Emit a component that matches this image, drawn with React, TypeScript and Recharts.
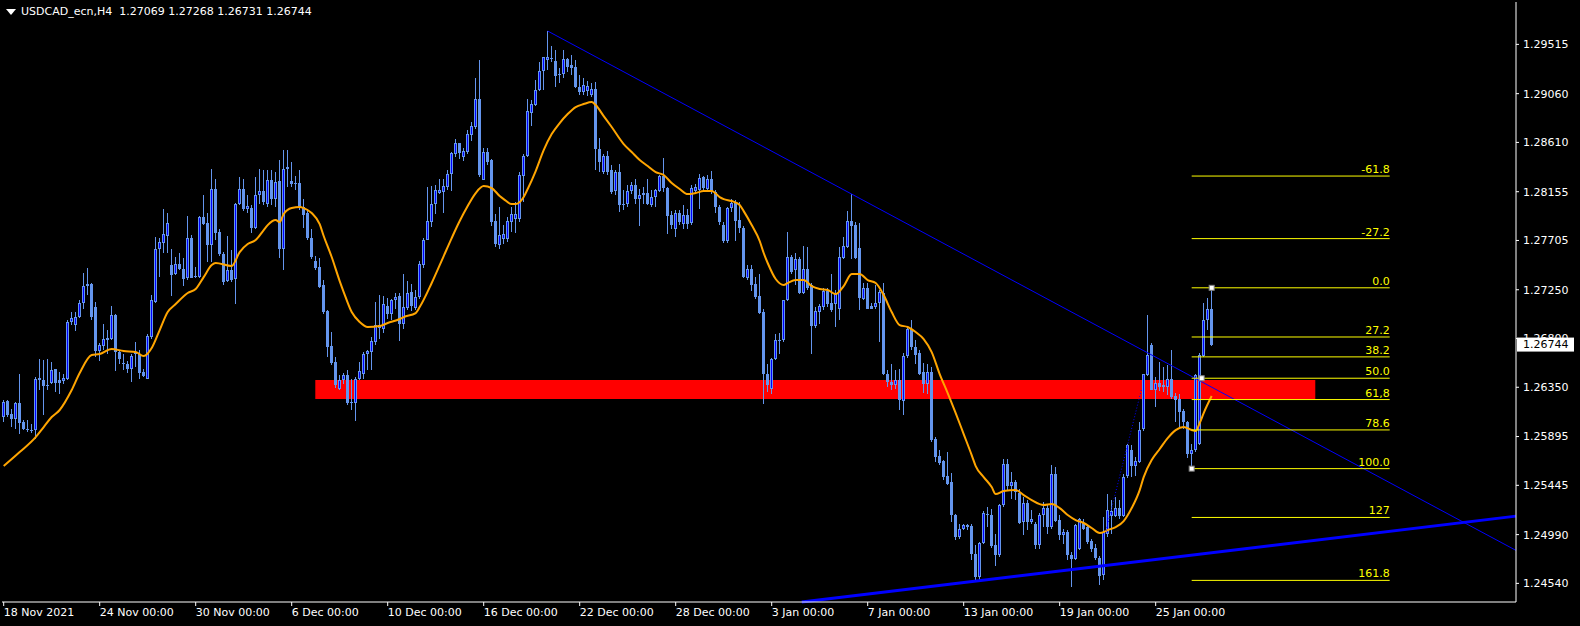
import React from 'react';
import {
  ComposedChart,
  Bar,
  Line,
  XAxis,
  YAxis,
  ReferenceLine,
  ReferenceArea,
  ReferenceDot,
} from 'recharts';

// USDCAD_ecn H4 candles, bar 0 = 18 Nov 2021 00:00
const opens = [
  1.26076, 1.26221, 1.26107, 1.26061, 1.26208, 1.2603, 1.25968, 1.25959, 1.25953, 1.26415,
  1.26415, 1.26362, 1.2639, 1.26516, 1.26415, 1.26409, 1.26427, 1.26954, 1.26929, 1.26994,
  1.27129, 1.27283, 1.27302, 1.27092, 1.26686, 1.26732, 1.26784, 1.26791, 1.27015, 1.26677,
  1.26575, 1.26569, 1.26516, 1.26661, 1.26655, 1.26492, 1.2643, 1.26815, 1.27139, 1.27622,
  1.27684, 1.27745, 1.27477, 1.27391, 1.27484, 1.2744, 1.27354, 1.2773, 1.2737, 1.2737,
  1.27918, 1.27869, 1.27662, 1.2818, 1.27785, 1.27579, 1.2733, 1.27431, 1.27345, 1.28038,
  1.2818, 1.27992, 1.28008, 1.2782, 1.28128, 1.28159, 1.28045, 1.28261, 1.28091, 1.28252,
  1.27629, 1.28369, 1.28252, 1.28239, 1.28239, 1.28014, 1.27959, 1.27731, 1.27515, 1.2746,
  1.27291, 1.27053, 1.26727, 1.26582, 1.26336, 1.26413, 1.26459, 1.26203, 1.26203, 1.26428,
  1.26474, 1.26659, 1.26675, 1.26767, 1.26896, 1.2689, 1.27097, 1.27023, 1.27158, 1.27189,
  1.26936, 1.27084, 1.27229, 1.27084, 1.27183, 1.27482, 1.27713, 1.27876, 1.28045, 1.28144,
  1.28153, 1.28199, 1.28322, 1.28507, 1.286, 1.28476, 1.28523, 1.28683, 1.28754, 1.29015,
  1.28267, 1.28523, 1.28446, 1.27882, 1.2766, 1.27722, 1.27722, 1.27876, 1.27907, 1.27907,
  1.28301, 1.28483, 1.28886, 1.28954, 1.29092, 1.29268, 1.2937, 1.29376, 1.29363, 1.29231,
  1.29237, 1.29379, 1.29323, 1.29308, 1.29123, 1.29077, 1.29083, 1.29046, 1.29102, 1.28553,
  1.28338, 1.28483, 1.28353, 1.28162, 1.28338, 1.28045, 1.28045, 1.28162, 1.28221, 1.28085,
  1.28122, 1.28147, 1.2803, 1.28107, 1.28162, 1.28298, 1.2819, 1.27937, 1.27814, 1.27962,
  1.27854, 1.27944, 1.27866, 1.28162, 1.28169, 1.28292, 1.28184, 1.2827, 1.28153, 1.28014,
  1.27851, 1.27697, 1.28005, 1.28062, 1.27893, 1.27816, 1.27354, 1.27437, 1.27302, 1.27191,
  1.27046, 1.26476, 1.26338, 1.26609, 1.26784, 1.26784, 1.27154, 1.27548, 1.27431, 1.2753,
  1.27222, 1.27446, 1.27292, 1.26914, 1.27046, 1.27092, 1.2724, 1.27129, 1.27123, 1.27077,
  1.27545, 1.27647, 1.27884, 1.27847, 1.27631, 1.27169, 1.27262, 1.27098, 1.27092, 1.27129,
  1.27222, 1.2647, 1.26399, 1.26368, 1.26421, 1.26224, 1.26636, 1.26892, 1.26723, 1.26667,
  1.26492, 1.26384, 1.26492, 1.25876, 1.25712, 1.25669, 1.25527, 1.25475, 1.25167, 1.24967,
  1.25044, 1.25075, 1.25066, 1.24814, 1.24598, 1.24913, 1.25168, 1.25174, 1.24891, 1.24799,
  1.25261, 1.25639, 1.25436, 1.25476, 1.25375, 1.25107, 1.25285, 1.25107, 1.25085, 1.24891,
  1.25168, 1.25239, 1.2506, 1.25553, 1.25122, 1.24983, 1.25014, 1.24799, 1.24768, 1.2486,
  1.25097, 1.2506, 1.24931, 1.24869, 1.24777, 1.24614, 1.24999, 1.25159, 1.25159, 1.25239,
  1.25159, 1.25529, 1.25769, 1.25621, 1.25661, 1.25969, 1.26462, 1.26739, 1.26329, 1.26391,
  1.26348, 1.26348, 1.26422, 1.26268, 1.26246, 1.26132, 1.26031, 1.25732, 1.25769, 1.2583,
  1.26637, 1.2697, 1.27069,
];

const highs = [
  1.26236, 1.2623, 1.26153, 1.26215, 1.2647, 1.26045, 1.26045, 1.26014, 1.26446, 1.26615,
  1.266, 1.26615, 1.26584, 1.26523, 1.26492, 1.26476, 1.26969, 1.27046, 1.27046, 1.27154,
  1.27407, 1.27447, 1.2731, 1.27139, 1.26754, 1.26932, 1.26877, 1.27099, 1.27025, 1.26698,
  1.26655, 1.26593, 1.26655, 1.26766, 1.26692, 1.26523, 1.2684, 1.272, 1.27733, 1.27724,
  1.27992, 1.27955, 1.27625, 1.27548, 1.27591, 1.27545, 1.2793, 1.27755, 1.27462, 1.2793,
  1.28124, 1.27955, 1.28361, 1.28269, 1.27807, 1.27594, 1.27745, 1.27616, 1.28047, 1.28287,
  1.28269, 1.28124, 1.2803, 1.28292, 1.28369, 1.28353, 1.28353, 1.28353, 1.28338, 1.28446,
  1.28538, 1.28538, 1.2843, 1.28298, 1.28353, 1.28091, 1.2799, 1.27814, 1.27559, 1.27546,
  1.27343, 1.2706, 1.26859, 1.26628, 1.26459, 1.26481, 1.26505, 1.26428, 1.26444, 1.26582,
  1.26675, 1.2669, 1.26813, 1.27137, 1.27198, 1.27189, 1.27177, 1.27167, 1.2722, 1.2722,
  1.27398, 1.27328, 1.27306, 1.27245, 1.27512, 1.27728, 1.28199, 1.28205, 1.28221, 1.28276,
  1.28276, 1.28353, 1.28523, 1.28646, 1.28606, 1.28554, 1.28729, 1.288, 1.292, 1.2937,
  1.28554, 1.28554, 1.28461, 1.27953, 1.28014, 1.27845, 1.27922, 1.28014, 1.28061, 1.28338,
  1.28507, 1.29009, 1.29, 1.29185, 1.29354, 1.294, 1.29638, 1.29502, 1.29462, 1.29299,
  1.29462, 1.29385, 1.29416, 1.2937, 1.29231, 1.292, 1.29176, 1.29154, 1.29163, 1.28655,
  1.28507, 1.28529, 1.28399, 1.28353, 1.28415, 1.28169, 1.28215, 1.28245, 1.28276, 1.28184,
  1.28199, 1.2827, 1.28169, 1.28184, 1.28307, 1.28467, 1.28199, 1.27974, 1.27984, 1.27984,
  1.2803, 1.27999, 1.28215, 1.2823, 1.28322, 1.28301, 1.28313, 1.28344, 1.28169, 1.2803,
  1.27876, 1.28014, 1.28091, 1.28078, 1.28062, 1.27838, 1.27477, 1.27477, 1.27369, 1.274,
  1.27068, 1.26569, 1.26624, 1.26846, 1.26852, 1.2716, 1.27785, 1.2757, 1.27585, 1.27554,
  1.27653, 1.27647, 1.27308, 1.27092, 1.27123, 1.27262, 1.27262, 1.274, 1.27246, 1.27647,
  1.27739, 1.27979, 1.28133, 1.27878, 1.27862, 1.27308, 1.27308, 1.27129, 1.27292, 1.27246,
  1.27308, 1.26513, 1.26569, 1.26507, 1.26522, 1.26667, 1.26907, 1.26969, 1.26784, 1.26698,
  1.26575, 1.26569, 1.26538, 1.25891, 1.25768, 1.25682, 1.25752, 1.25558, 1.25183, 1.2509,
  1.25084, 1.2509, 1.2509, 1.24891, 1.24922, 1.25208, 1.25245, 1.2523, 1.25, 1.25276,
  1.25692, 1.25692, 1.25569, 1.25492, 1.25415, 1.25338, 1.25307, 1.25214, 1.25107, 1.2519,
  1.25291, 1.25276, 1.2563, 1.25615, 1.25168, 1.25045, 1.2503, 1.24829, 1.25085, 1.25147,
  1.25137, 1.25076, 1.24953, 1.24906, 1.24789, 1.25153, 1.25368, 1.25307, 1.25338, 1.25307,
  1.25553, 1.2583, 1.25815, 1.25707, 1.26031, 1.26477, 1.27016, 1.26761, 1.26446, 1.26585,
  1.26539, 1.26554, 1.26693, 1.26299, 1.26292, 1.26145, 1.2604, 1.2583, 1.26477, 1.26662,
  1.27124, 1.2717, 1.27268,
];

const lows = [
  1.2603, 1.26076, 1.25984, 1.25968, 1.25922, 1.25953, 1.25937, 1.25928, 1.25876, 1.26322,
  1.26091, 1.26322, 1.26384, 1.26307, 1.26292, 1.26384, 1.26421, 1.26923, 1.26871, 1.26985,
  1.27068, 1.272, 1.26975, 1.2663, 1.26593, 1.26692, 1.26661, 1.26784, 1.26501, 1.26569,
  1.26507, 1.26483, 1.26399, 1.26538, 1.2643, 1.26446, 1.26427, 1.268, 1.27129, 1.2737,
  1.27585, 1.27585, 1.27191, 1.27385, 1.27431, 1.27283, 1.27339, 1.27354, 1.27354, 1.27354,
  1.27847, 1.27508, 1.27508, 1.27708, 1.27561, 1.27293, 1.27323, 1.27323, 1.27117, 1.28032,
  1.27976, 1.27961, 1.27774, 1.27814, 1.28045, 1.2803, 1.28014, 1.2803, 1.28014, 1.27546,
  1.27429, 1.28199, 1.28199, 1.28175, 1.2799, 1.27823, 1.27713, 1.27537, 1.27429, 1.27269,
  1.27029, 1.26628, 1.26551, 1.26345, 1.26321, 1.26382, 1.26182, 1.26136, 1.26043, 1.26413,
  1.26428, 1.26505, 1.26505, 1.26736, 1.26798, 1.2685, 1.26983, 1.26974, 1.27075, 1.26776,
  1.2689, 1.2706, 1.27053, 1.27066, 1.27167, 1.27454, 1.27706, 1.2783, 1.27953, 1.28138,
  1.27959, 1.28168, 1.28162, 1.28476, 1.28461, 1.28436, 1.28507, 1.28624, 1.28738, 1.28292,
  1.28261, 1.28399, 1.27836, 1.27645, 1.27629, 1.27676, 1.27691, 1.27783, 1.27777, 1.27876,
  1.28061, 1.28477, 1.28763, 1.28948, 1.29083, 1.29092, 1.29277, 1.29354, 1.29123, 1.29154,
  1.29206, 1.29262, 1.29231, 1.29108, 1.29046, 1.29046, 1.2904, 1.29031, 1.28353, 1.28338,
  1.28323, 1.28313, 1.28138, 1.28122, 1.27968, 1.27984, 1.28014, 1.28138, 1.28045, 1.27839,
  1.28045, 1.2803, 1.28014, 1.28014, 1.28153, 1.28153, 1.27768, 1.27814, 1.27737, 1.27845,
  1.27814, 1.27808, 1.27851, 1.28138, 1.27999, 1.28153, 1.28153, 1.28138, 1.27962, 1.27845,
  1.27685, 1.27685, 1.27968, 1.27702, 1.2777, 1.27354, 1.27339, 1.2724, 1.27169, 1.27024,
  1.26199, 1.26307, 1.26291, 1.26599, 1.26661, 1.26769, 1.27145, 1.274, 1.27292, 1.27215,
  1.27215, 1.27246, 1.26661, 1.26901, 1.26932, 1.27061, 1.27092, 1.27046, 1.26907, 1.26969,
  1.2753, 1.2764, 1.2753, 1.2753, 1.27061, 1.27154, 1.27068, 1.27068, 1.27077, 1.26769,
  1.26461, 1.26353, 1.26322, 1.26338, 1.26137, 1.26091, 1.26624, 1.26692, 1.26569, 1.26461,
  1.26298, 1.26285, 1.25845, 1.2566, 1.25629, 1.25497, 1.25444, 1.25106, 1.24936, 1.24952,
  1.25029, 1.25029, 1.2476, 1.24552, 1.24552, 1.24906, 1.2506, 1.24869, 1.24697, 1.24783,
  1.25245, 1.25399, 1.25322, 1.25307, 1.25085, 1.24983, 1.2503, 1.25091, 1.2486, 1.2486,
  1.2506, 1.24999, 1.25045, 1.25107, 1.24943, 1.24906, 1.24752, 1.24506, 1.24759, 1.24845,
  1.25036, 1.24906, 1.24829, 1.24759, 1.24521, 1.24568, 1.24968, 1.24999, 1.25153, 1.25137,
  1.25153, 1.25516, 1.25522, 1.25529, 1.25652, 1.25947, 1.26453, 1.26323, 1.26169, 1.26317,
  1.26308, 1.26277, 1.26246, 1.26031, 1.25984, 1.25969, 1.25701, 1.25599, 1.25753, 1.25815,
  1.26625, 1.26878, 1.26731,
];

const closes = [
  1.26215, 1.26091, 1.26061, 1.26208, 1.26021, 1.25968, 1.25959, 1.25947, 1.2643, 1.26436,
  1.26362, 1.26368, 1.26513, 1.26393, 1.26393, 1.26433, 1.26957, 1.26985, 1.26994, 1.27132,
  1.27283, 1.27302, 1.26994, 1.26686, 1.26738, 1.26791, 1.26806, 1.27015, 1.26677, 1.26609,
  1.26569, 1.26516, 1.2664, 1.26677, 1.26483, 1.26452, 1.26821, 1.27154, 1.27622, 1.27687,
  1.27764, 1.27862, 1.27385, 1.27484, 1.27437, 1.27351, 1.27724, 1.2736, 1.27376, 1.27918,
  1.27856, 1.27662, 1.2818, 1.2777, 1.27576, 1.27323, 1.27431, 1.27339, 1.28038, 1.2818,
  1.27992, 1.28023, 1.27823, 1.28128, 1.28159, 1.28061, 1.28261, 1.28091, 1.28245, 1.27626,
  1.28369, 1.28384, 1.2823, 1.28224, 1.28014, 1.27944, 1.27728, 1.27552, 1.27454, 1.27275,
  1.27044, 1.26721, 1.26573, 1.26367, 1.26413, 1.26459, 1.26203, 1.26213, 1.26428, 1.26496,
  1.26659, 1.26681, 1.26773, 1.26921, 1.26921, 1.27115, 1.27023, 1.27158, 1.27183, 1.2693,
  1.2709, 1.27223, 1.27097, 1.27183, 1.27485, 1.27713, 1.27882, 1.28045, 1.28168, 1.28168,
  1.28205, 1.28322, 1.28513, 1.286, 1.28513, 1.28532, 1.28686, 1.2876, 1.29015, 1.28307,
  1.28523, 1.2843, 1.27876, 1.27676, 1.27759, 1.27768, 1.27882, 1.27953, 1.27953, 1.28307,
  1.28483, 1.28898, 1.28963, 1.29092, 1.29268, 1.29394, 1.294, 1.29385, 1.29225, 1.29237,
  1.29379, 1.29308, 1.29299, 1.29123, 1.29077, 1.29139, 1.29132, 1.29102, 1.28547, 1.2843,
  1.28483, 1.28338, 1.28153, 1.28338, 1.2803, 1.2803, 1.28159, 1.28221, 1.28085, 1.28128,
  1.28147, 1.28045, 1.28107, 1.28169, 1.28298, 1.2819, 1.27931, 1.27851, 1.27962, 1.27876,
  1.27944, 1.2786, 1.28193, 1.28199, 1.28282, 1.2819, 1.2827, 1.28153, 1.28014, 1.27876,
  1.27697, 1.28005, 1.28054, 1.27887, 1.27816, 1.27369, 1.27446, 1.27292, 1.27185, 1.27031,
  1.26476, 1.26368, 1.26615, 1.2679, 1.2679, 1.27154, 1.27548, 1.27416, 1.2753, 1.27222,
  1.27446, 1.27262, 1.26914, 1.27052, 1.27098, 1.2724, 1.27123, 1.27061, 1.27215, 1.27548,
  1.27653, 1.27884, 1.27838, 1.27539, 1.27175, 1.27262, 1.27077, 1.27077, 1.27129, 1.27231,
  1.2647, 1.26399, 1.26368, 1.26421, 1.2623, 1.26636, 1.26892, 1.26723, 1.26646, 1.26476,
  1.26384, 1.26492, 1.25866, 1.25706, 1.25651, 1.25521, 1.2546, 1.25167, 1.24967, 1.25044,
  1.25075, 1.25059, 1.24813, 1.24598, 1.24913, 1.25193, 1.25184, 1.24882, 1.24799, 1.25261,
  1.25639, 1.25436, 1.25476, 1.25384, 1.25097, 1.25285, 1.25107, 1.25137, 1.24891, 1.25168,
  1.25239, 1.2506, 1.25553, 1.25116, 1.24983, 1.25014, 1.24799, 1.24768, 1.25076, 1.25137,
  1.25045, 1.24922, 1.2486, 1.24777, 1.24605, 1.25014, 1.25214, 1.25208, 1.25239, 1.25159,
  1.25522, 1.25815, 1.25621, 1.2567, 1.2596, 1.26471, 1.26647, 1.26329, 1.26391, 1.26354,
  1.26369, 1.26422, 1.26256, 1.26231, 1.26123, 1.26031, 1.25738, 1.25769, 1.26462, 1.26647,
  1.2697, 1.27069, 1.26744,
];

// orange moving average, read at these bars
const maBars = [
  0, 4, 8, 10, 12, 14, 17, 19, 22, 24, 27, 30, 33, 35, 37, 39, 41, 43, 46, 48,
  50, 52, 53, 57, 59, 61, 63, 65, 66, 68, 69, 70, 72, 74, 75, 77, 79, 80, 82, 84,
  85, 87, 89, 91, 94, 96, 99, 100, 103, 104, 107, 110, 112, 114, 116, 118, 120, 122, 124, 125,
  127, 128, 130, 131, 133, 135, 137, 139, 141, 143, 145, 147, 148, 150, 152, 155, 157, 159, 161, 163,
  165, 167, 169, 171, 173, 175, 177, 179, 180, 182, 184, 185, 187, 189, 190, 191, 193, 195, 196, 198,
  200, 202, 204, 206, 208, 210, 212, 214, 216, 218, 220, 222, 224, 226, 228, 230, 232, 234, 236, 238,
  240, 242, 243, 245, 247, 248, 250, 253, 255, 257, 260, 262, 264, 266, 268, 270, 272, 274, 276, 278,
  280, 282, 284, 285, 287, 289, 291, 293, 295, 297, 298, 299, 300, 302,
];
const maValues = [
  1.25623, 1.25752, 1.2589, 1.25983, 1.26075, 1.2614, 1.26324, 1.26481, 1.26647, 1.26657,
  1.26703, 1.26684, 1.26675, 1.26638, 1.26712, 1.26878, 1.27044, 1.27118, 1.2722, 1.27257,
  1.27367, 1.27478, 1.27497, 1.27469, 1.27598, 1.27672, 1.27709, 1.27801, 1.27847, 1.27893,
  1.27875, 1.27949, 1.28004, 1.28013, 1.28004, 1.27958, 1.27856, 1.27746, 1.27552, 1.2733,
  1.27229, 1.27044, 1.26952, 1.26906, 1.26915, 1.26943, 1.2698, 1.26998, 1.27035, 1.2709,
  1.27312, 1.27561, 1.27727, 1.27884, 1.28023, 1.28143, 1.28207, 1.28189, 1.28115, 1.28087,
  1.28041, 1.28041, 1.28106, 1.2818, 1.28346, 1.28539, 1.28687, 1.28789, 1.28872, 1.28936,
  1.28964, 1.28983, 1.28955, 1.28853, 1.28752, 1.28595, 1.28521, 1.28447, 1.28392, 1.28336,
  1.28309, 1.28235, 1.2818, 1.28133, 1.28143, 1.28161, 1.28161, 1.28106, 1.28087, 1.28069,
  1.28032, 1.27976, 1.27847, 1.277, 1.27589, 1.27497, 1.27349, 1.27293, 1.27312, 1.2734,
  1.2734, 1.27284, 1.27257, 1.27247, 1.2721, 1.27284, 1.27395, 1.27395, 1.2734, 1.27312,
  1.27201, 1.27044, 1.26924, 1.26906, 1.2686, 1.26795, 1.26675, 1.26472, 1.26297, 1.26112,
  1.25918, 1.25724, 1.25623, 1.25521, 1.25429, 1.25364, 1.25392, 1.25401, 1.25355, 1.25309,
  1.25263, 1.25272, 1.25235, 1.25171, 1.25124, 1.25097, 1.25051, 1.25004, 1.25032, 1.2506,
  1.25115, 1.25235, 1.25401, 1.25521, 1.25678, 1.2578, 1.25881, 1.25955, 1.25983, 1.25955,
  1.25946, 1.2602, 1.26112, 1.26269,
];

// axes
const priceTicks = [
  1.29515, 1.2906, 1.2861, 1.28155, 1.27705, 1.2725, 1.268, 1.2635, 1.25895, 1.25445, 1.2499, 1.2454,
];
const lastPrice = 1.26744;
const dateTickBars = [0, 24, 48, 72, 96, 120, 144, 168, 192, 216, 240, 264, 288];
const dateTickLabels = [
  '18 Nov 2021', '24 Nov 00:00', '30 Nov 00:00', '6 Dec 00:00', '10 Dec 00:00',
  '16 Dec 00:00', '22 Dec 00:00', '28 Dec 00:00', '3 Jan 00:00', '7 Jan 00:00',
  '13 Jan 00:00', '19 Jan 00:00', '25 Jan 00:00',
];

// drawn objects
const zoneBars = [77.9, 327.9];
const zonePrices = [1.26241, 1.26417];
const resistanceBars = [136, 212];
const resistancePrices = [1.29638, 1.28133];
const supportBars = [243, 300];
const supportPrices = [1.24561, 1.24814];
const dottedBars = [275.4, 284.5];
const dottedPrices = [1.24999, 1.26339];
const fibBars = [297, 302];
const fibPrices = [1.25599, 1.27268]; // 100 / 0 anchors
const fibEndBar = 346.5;
const fibLevels = [-61.8, -27.2, 0, 27.2, 38.2, 50, 61.8, 78.6, 100, 127, 161.8];
const fibLabels = ['-61.8', '-27.2', '0.0', '27.2', '38.2', '50.0', '61,8', '78.6', '100.0', '127', '161.8'];

const X_MIN = -0.425;
const X_MAX = 378.08;
const Y_MIN = 1.24368;
const Y_MAX = 1.29906;

const FONT = "'DejaVu Sans', sans-serif";
const WICK = '#6495ED';
const BEAR_FILL = '#6495ED';
const BULL_FILL = '#0000FF';

const maByBar = new Map<number, number>(maBars.map((b, k) => [b, maValues[k]]));

const data = opens.map((o, i) => ({
  i,
  o,
  h: highs[i],
  l: lows[i],
  c: closes[i],
  range: [lows[i], highs[i]],
  ma: maByBar.has(i) ? maByBar.get(i) : null,
}));

/** value on a straight line through two anchors */
const lineAt = (bars: number[], prices: number[], bar: number) =>
  prices[0] + ((prices[1] - prices[0]) / (bars[1] - bars[0])) * (bar - bars[0]);

// support line enters the plot where it crosses the bottom edge
const supportStart =
  supportBars[0] +
  ((Y_MIN - supportPrices[0]) * (supportBars[1] - supportBars[0])) / (supportPrices[1] - supportPrices[0]);

/** MT4 style candle drawn from the [low, high] range bar */
function Candle(props: any) {
  const { x, y, width, height, payload } = props;
  if (payload == null || x == null) return null;
  const { o, h, l, c } = payload;
  const top = Math.min(y, y + height);
  const span = Math.abs(height);
  const py = (v: number) => (h > l ? top + ((h - v) / (h - l)) * span : top);
  const cx = Math.floor(x + width / 2);
  const bodyTop = Math.round(py(Math.max(o, c)));
  const bodyBot = Math.max(bodyTop + 1, Math.round(py(Math.min(o, c))));
  const bull = c > o;
  return (
    <g>
      <rect x={cx} y={Math.round(top)} width={1} height={Math.max(1, Math.round(top + span) - Math.round(top))} fill={WICK} />
      <rect x={cx - 1} y={bodyTop} width={3} height={bodyBot - bodyTop} fill={bull ? WICK : BEAR_FILL} />
      {bull && bodyBot - bodyTop > 2 && (
        <rect x={cx} y={bodyTop + 1} width={1} height={bodyBot - bodyTop - 2} fill={BULL_FILL} />
      )}
    </g>
  );
}

function PriceTick(props: any) {
  const { x, y, payload } = props;
  const v = payload.value as number;
  if (v === lastPrice) {
    return (
      <g>
        <rect x={x - 6} y={y - 7} width={57} height={14} fill="#FFFFFF" />
        <text x={x} y={y} dy="0.355em" fill="#000000" fontSize={11} fontFamily={FONT}>
          {v.toFixed(5)}
        </text>
      </g>
    );
  }
  return (
    <g>
      <line x1={x - 7} x2={x - 4} y1={y} y2={y} stroke="#FFFFFF" />
      <text x={x} y={y} dy="0.355em" fill="#FFFFFF" fontSize={11} fontFamily={FONT}>
        {v.toFixed(5)}
      </text>
    </g>
  );
}

function DateTick(props: any) {
  const { x, y, payload } = props;
  const k = dateTickBars.indexOf(payload.value);
  return (
    <text x={x} y={y} dy="0.71em" textAnchor="start" fill="#FFFFFF" fontSize={11} fontFamily={FONT}>
      {dateTickLabels[k]}
    </text>
  );
}

function FibLabel(props: any) {
  const vb = props.viewBox || {};
  return (
    <text x={vb.x + vb.width} y={vb.y - 3} textAnchor="end" fill="#FFFF00" fontSize={11} fontFamily={FONT}>
      {props.text}
    </text>
  );
}

const AnchorSquare = (p: any) => (
  <rect x={p.cx - 2.5} y={p.cy - 2.5} width={5} height={5} fill="#FFFFFF" stroke="#808080" strokeWidth={1} />
);

export default function App() {
  const fibHigh = fibPrices[1];
  const fibRange = fibPrices[1] - fibPrices[0];
  return (
    <div style={{ position: 'absolute', left: 0, top: 0, width: 1580, height: 626, background: '#000000' }}>
      <ComposedChart
        width={1580}
        height={626}
        data={data}
        margin={{ top: 2, right: 0, bottom: 0, left: 2 }}
      >
        <XAxis
          dataKey="i"
          type="number"
          domain={[X_MIN, X_MAX]}
          allowDataOverflow
          ticks={dateTickBars}
          interval={0}
          height={24}
          tickSize={4}
          tickMargin={2}
          axisLine={{ stroke: '#FFFFFF' }}
          tickLine={{ stroke: '#FFFFFF' }}
          tick={<DateTick />}
        />
        <YAxis
          orientation="right"
          type="number"
          domain={[Y_MIN, Y_MAX]}
          allowDataOverflow
          ticks={[...priceTicks, lastPrice]}
          interval={0}
          width={64}
          tickSize={3}
          tickMargin={4}
          axisLine={{ stroke: '#FFFFFF' }}
          tickLine={false}
          tick={<PriceTick />}
        />
        <YAxis
          yAxisId="frame"
          orientation="left"
          type="number"
          domain={[Y_MIN, Y_MAX]}
          width={0}
          tick={false}
          tickLine={false}
          axisLine={{ stroke: '#FFFFFF' }}
        />

        {/* red zone behind the candles */}
        <ReferenceArea
          x1={zoneBars[0]}
          x2={zoneBars[1]}
          y1={zonePrices[0]}
          y2={zonePrices[1]}
          fill="#FF0000"
          fillOpacity={1}
          stroke="none"
          ifOverflow="visible"
        />

        <Bar dataKey="range" barSize={3} shape={<Candle />} isAnimationActive={false} />

        <Line
          dataKey="ma"
          type="monotone"
          stroke="#FFA500"
          strokeWidth={2}
          dot={false}
          connectNulls
          isAnimationActive={false}
        />

        {/* falling trend line from the December high */}
        <ReferenceLine
          segment={[
            { x: resistanceBars[0], y: resistancePrices[0] },
            { x: X_MAX, y: lineAt(resistanceBars, resistancePrices, X_MAX) },
          ]}
          stroke="#0000FF"
          strokeWidth={1}
          ifOverflow="visible"
        />
        {/* rising support line */}
        <ReferenceLine
          segment={[
            { x: supportStart, y: Y_MIN },
            { x: X_MAX, y: lineAt(supportBars, supportPrices, X_MAX) },
          ]}
          stroke="#0000FF"
          strokeWidth={3}
          ifOverflow="visible"
        />
        <ReferenceLine
          segment={[
            { x: dottedBars[0], y: dottedPrices[0] },
            { x: dottedBars[1], y: dottedPrices[1] },
          ]}
          stroke="#0000FF"
          strokeDasharray="1 2"
          ifOverflow="visible"
        />

        {/* fibonacci levels */}
        {fibLevels.map((lvl, k) => {
          const p = fibHigh - (fibRange * lvl) / 100;
          return (
            <ReferenceLine
              key={lvl}
              segment={[
                { x: fibBars[0], y: p },
                { x: fibEndBar, y: p },
              ]}
              stroke="#FFFF00"
              strokeWidth={1}
              ifOverflow="visible"
              label={<FibLabel text={fibLabels[k]} />}
            />
          );
        })}
        <ReferenceDot x={fibBars[0]} y={fibPrices[0]} r={3} shape={AnchorSquare} ifOverflow="visible" />
        <ReferenceDot x={fibBars[1]} y={fibPrices[1]} r={3} shape={AnchorSquare} ifOverflow="visible" />
        <ReferenceDot
          x={(fibBars[0] + fibBars[1]) / 2}
          y={(fibPrices[0] + fibPrices[1]) / 2}
          r={3}
          shape={AnchorSquare}
          ifOverflow="visible"
        />
      </ComposedChart>

      {/* chart header: menu triangle + symbol and last bar OHLC */}
      <svg style={{ position: 'absolute', left: 0, top: 0 }} width={20} height={20}>
        <polygon points="6,9 16,9 11,15" fill="#FFFFFF" />
      </svg>
      <div
        style={{
          position: 'absolute',
          left: 21,
          top: 5,
          color: '#FFFFFF',
          fontFamily: FONT,
          fontSize: 11,
          whiteSpace: 'pre',
          lineHeight: '14px',
        }}
      >
        {'USDCAD_ecn,H4  1.27069 1.27268 1.26731 1.26744'}
      </div>
    </div>
  );
}
